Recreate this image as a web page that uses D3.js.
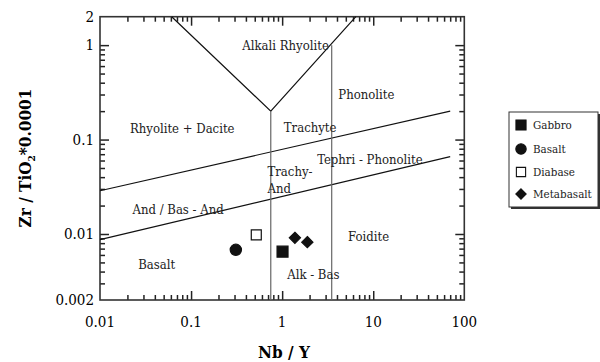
<!DOCTYPE html>
<html><head><meta charset="utf-8">
<script src="https://cdn.jsdelivr.net/npm/d3@7"></script>
<style>body{margin:0;background:#fff}svg{display:block}text{font-family:"DejaVu Serif Condensed","DejaVu Serif",serif;font-stretch:condensed}</style>
</head><body><svg id="c" width="600" height="362"></svg>
<script>
// Samples
const seriesNames = ["Gabbro", "Basalt", "Diabase", "Metabasalt"];
const gabbroX = [1.01], gabbroY = [0.0065];
const basaltX = [0.31], basaltY = [0.0068];
const diabaseX = [0.52], diabaseY = [0.0098];
const metabasaltX = [1.38, 1.89], metabasaltY = [0.0091, 0.0082];

// Field boundaries (Nb/Y, Zr/TiO2)
const upperLineX = [0.01, 70], upperLineY = [0.0287, 0.2];
const lowerLineX = [0.01, 70], lowerLineY = [0.0087, 0.066];
const vLineX = [0.0613, 0.75, 6.45], vLineY = [2, 0.2, 2];
const leftVertX = [0.75, 0.75], leftVertY = [0.2, 0.002];
const rightVertX = [3.5, 3.5], rightVertY = [1.0, 0.002];

// Field labels
const fieldNames = ["Alkali Rhyolite", "Phonolite", "Rhyolite + Dacite", "Trachyte", "Tephri - Phonolite", "Trachy-", "And", "And / Bas - And", "Foidite", "Basalt", "Alk - Bas"];
const fieldX = [1.09, 8.4, 0.08, 2.03, 9.2, 0.69, 0.69, 0.072, 8.9, 0.042, 2.2];
const fieldY = [1.0, 0.3, 0.13, 0.135, 0.061, 0.046, 0.0305, 0.018, 0.0093, 0.0048, 0.0037];
const fieldAnchor = ["middle","middle","middle","middle","middle","start","start","middle","middle","middle","middle"];

// Ticks
const xTickValues = [0.01, 0.1, 1, 10, 100];
const xTickLabels = ["0.01", "0.1", "1", "10", "100"];
const yTickValues = [2, 1, 0.1, 0.01, 0.002];
const yTickLabels = ["2", "1", "0.1", "0.01", "0.002"];
const xMinorTicks = [0.02,0.03,0.04,0.05,0.06,0.07,0.08,0.09,0.2,0.3,0.4,0.5,0.6,0.7,0.8,0.9,2,3,4,5,6,7,8,9,20,30,40,50,60,70,80,90];
const yMinorTicks = [0.003,0.004,0.005,0.006,0.007,0.008,0.009,0.02,0.03,0.04,0.05,0.06,0.07,0.08,0.09,0.2,0.3,0.4,0.5,0.6,0.7,0.8,0.9];
const xMajorTicks = [0.1, 1, 10], yMajorTicks = [1, 0.1, 0.01];

const svg = d3.select("#c");
const L = 100, R = 464.3, T = 16.7, B = 300;
const x = d3.scaleLog().domain([0.01, 100]).range([L, R]);
const y = d3.scaleLog().domain([0.002, 2]).range([B, T]);

const axisCol = "#222";
const g = svg.append("g");

function drawTicks(axisFn, scale, pos, vals, len) {
  const a = axisFn(scale).tickValues(vals).tickSizeInner(len).tickSizeOuter(0).tickFormat(() => "");
  const sel = g.append("g").attr("class", "tk").attr("transform", pos).call(a);
  sel.select(".domain").remove();
  sel.selectAll(".tick line").attr("stroke", axisCol).attr("stroke-width", 1.5);
}
// inward ticks on all four sides
drawTicks(d3.axisTop, x, `translate(0,${B})`, xMinorTicks, 5);
drawTicks(d3.axisTop, x, `translate(0,${B})`, xMajorTicks, 9);
drawTicks(d3.axisBottom, x, `translate(0,${T})`, xMinorTicks, 5);
drawTicks(d3.axisBottom, x, `translate(0,${T})`, xMajorTicks, 9);
drawTicks(d3.axisRight, y, `translate(${L},0)`, yMinorTicks, 5);
drawTicks(d3.axisRight, y, `translate(${L},0)`, yMajorTicks, 9);
drawTicks(d3.axisLeft, y, `translate(${R},0)`, yMinorTicks, 5);
drawTicks(d3.axisLeft, y, `translate(${R},0)`, yMajorTicks, 9);

g.append("rect").attr("x", L).attr("y", T).attr("width", R - L).attr("height", B - T)
  .attr("fill", "none").attr("stroke", "#333").attr("stroke-width", 1.6);

// tick labels
g.selectAll(".xl").data(xTickValues).enter().append("text")
  .attr("x", d => x(d)).attr("y", B + 27).attr("text-anchor", "middle")
  .attr("font-size", 15).text((d, i) => xTickLabels[i]);
g.selectAll(".yl").data(yTickValues).enter().append("text")
  .attr("x", L - 6).attr("y", d => y(d) + 5).attr("text-anchor", "end")
  .attr("font-size", 15).text((d, i) => yTickLabels[i]);

// axis titles
svg.append("text").attr("x", 284).attr("y", 358).attr("text-anchor", "middle")
  .attr("font-size", 17).attr("font-weight", "bold").text("Nb / Y");
const yt = svg.append("text").attr("transform", "translate(31,158) rotate(-90)")
  .attr("text-anchor", "middle").attr("font-size", 17).attr("font-weight", "bold");
yt.append("tspan").text("Zr / TiO");
yt.append("tspan").attr("font-size", 10).attr("dy", 4).text("2");
yt.append("tspan").attr("dy", -4).text("*0.0001");

// boundaries
const line = d3.line().x(d => x(d[0])).y(d => y(d[1]));
function drawLine(xs, ys, col) {
  g.append("path").datum(xs.map((v, i) => [v, ys[i]])).attr("d", line)
    .attr("fill", "none").attr("stroke", col).attr("stroke-width", 1.2);
}
drawLine(upperLineX, upperLineY, "#111");
drawLine(lowerLineX, lowerLineY, "#111");
drawLine(vLineX, vLineY, "#111");
drawLine(leftVertX, leftVertY, "#666");
drawLine(rightVertX, rightVertY, "#666");

// field labels
g.selectAll(".fl").data(fieldNames).enter().append("text")
  .attr("x", (d, i) => x(fieldX[i])).attr("y", (d, i) => y(fieldY[i]) + 4.5)
  .attr("text-anchor", (d, i) => fieldAnchor[i]).attr("font-size", 13).attr("fill", "#222")
  .text(d => d);

// symbols
const sym = {
  Gabbro: { t: d3.symbolSquare, s: 120, fill: "#111", xs: gabbroX, ys: gabbroY },
  Basalt: { t: d3.symbolCircle, s: 100, fill: "#111", xs: basaltX, ys: basaltY },
  Diabase: { t: d3.symbolSquare, s: 100, fill: "#fff", xs: diabaseX, ys: diabaseY },
  Metabasalt: { t: d3.symbolDiamond2, s: 80, fill: "#111", xs: metabasaltX, ys: metabasaltY }
};
seriesNames.forEach(n => {
  const o = sym[n];
  g.selectAll(null).data(o.xs.map((v, i) => [v, o.ys[i]])).enter().append("path")
    .attr("d", d3.symbol().type(o.t).size(o.s)())
    .attr("transform", d => `translate(${x(d[0])},${y(d[1])})`)
    .attr("fill", o.fill).attr("stroke", "#111").attr("stroke-width", 1.2);
});

// legend
const lg = svg.append("g");
lg.append("rect").attr("x", 511).attr("y", 114).attr("width", 89).attr("height", 95).attr("fill", "#333");
lg.append("rect").attr("x", 509).attr("y", 112).attr("width", 89).attr("height", 95)
  .attr("fill", "#fff").attr("stroke", "#333").attr("stroke-width", 1);
const legendY = [125, 149, 172, 194];
seriesNames.forEach((n, i) => {
  const o = sym[n];
  lg.append("path").attr("d", d3.symbol().type(o.t).size(o.s * 0.85)())
    .attr("transform", `translate(521,${legendY[i]})`)
    .attr("fill", o.fill).attr("stroke", "#111").attr("stroke-width", 1.1);
  lg.append("text").attr("x", 533).attr("y", legendY[i] + 4).attr("font-size", 11.5)
    .attr("fill", "#222").text(n);
});
</script></body></html>
